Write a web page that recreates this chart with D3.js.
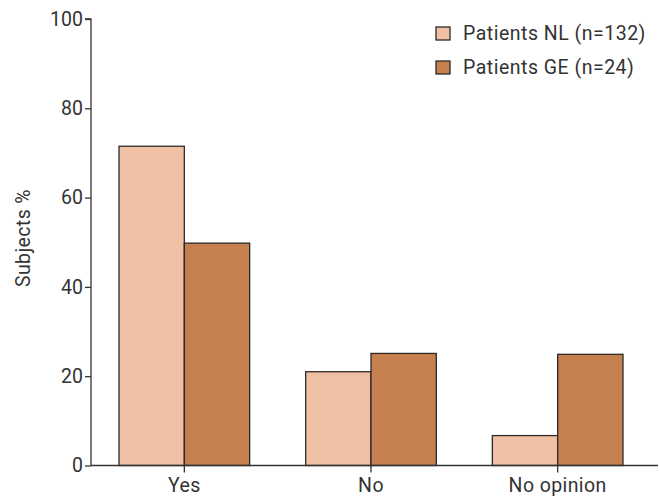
<!DOCTYPE html>
<html><head><meta charset="utf-8">
<script src="https://cdn.jsdelivr.net/npm/d3@7"></script>
<style>body{margin:0;background:#fff}</style>
</head><body>
<svg id="c" width="660" height="500"></svg>
<script>
const categories = ["Yes", "No", "No opinion"];
const seriesNames = ["Patients NL (n=132)", "Patients GE (n=24)"];
const valuesNL = [71.5, 21.0, 6.7];
const valuesGE = [49.8, 25.1, 24.9];
const yTicks = [0, 20, 40, 60, 80, 100];
const colors = ["#EFC0A3", "#C67F4E"];

const svg = d3.select("#c");
const font = "Roboto, 'DejaVu Sans', sans-serif";
const ink = "#333";
const fs = "19.5px";

const x = d3.scaleBand().domain(categories).range([91, 651]).paddingInner(0.3).paddingOuter(0.15);
const y = d3.scaleLinear().domain([0, 100]).range([465.5, 19]);
const xs = d3.scaleBand().domain([0, 1]).range([0, x.bandwidth()]);

const data = categories.map((c, i) => ({c, v: [valuesNL[i], valuesGE[i]]}));

// bars
const g = svg.append("g");
data.forEach(d => {
  d.v.forEach((v, j) => {
    g.append("rect")
      .attr("x", x(d.c) + xs(j))
      .attr("y", y(v))
      .attr("width", xs.bandwidth())
      .attr("height", y(0) - y(v))
      .attr("fill", colors[j])
      .attr("stroke", "#2a2a2a")
      .attr("stroke-width", 1.3);
  });
});

// y axis
const ya = svg.append("g").attr("transform", "translate(91,0)")
  .call(d3.axisLeft(y).tickValues(yTicks).tickSize(6).tickPadding(2));
ya.select(".domain").attr("stroke", ink).attr("stroke-width", 1.3).attr("d", `M0,${y(0)}V${y(100)}H-6`);
ya.selectAll(".tick line").attr("stroke", ink).attr("stroke-width", 1.3);
ya.selectAll(".tick text").attr("fill", ink).style("font-family", font).style("font-size", fs);

// x axis
svg.append("line").attr("x1", 91).attr("x2", 658).attr("y1", y(0)).attr("y2", y(0))
  .attr("stroke", ink).attr("stroke-width", 1.3);
const xa = svg.append("g").attr("transform", `translate(0,${y(0)})`)
  .call(d3.axisBottom(x).tickSize(7).tickPadding(6));
xa.select(".domain").remove();
xa.selectAll(".tick line").attr("stroke", ink).attr("stroke-width", 1.3);
xa.selectAll(".tick text").attr("fill", ink).style("font-family", font).style("font-size", fs)
  .style("letter-spacing", "0.4px");

// y label
svg.append("text").attr("transform", "translate(30,238) rotate(-90)")
  .attr("text-anchor", "middle").attr("fill", ink)
  .style("font-family", font).style("font-size", fs).style("letter-spacing", "0.4px").text("Subjects %");

// legend
seriesNames.forEach((s, i) => {
  const ly = 27 + i * 34;
  svg.append("rect").attr("x", 436).attr("y", ly).attr("width", 14).attr("height", 13)
    .attr("fill", colors[i]).attr("stroke", "#2a2a2a").attr("stroke-width", 1.3);
  svg.append("text").attr("x", 463).attr("y", ly + 13).attr("fill", ink)
    .style("font-family", font).style("font-size", fs).style("letter-spacing", "0.5px").text(s);
});
</script>
</body></html>
